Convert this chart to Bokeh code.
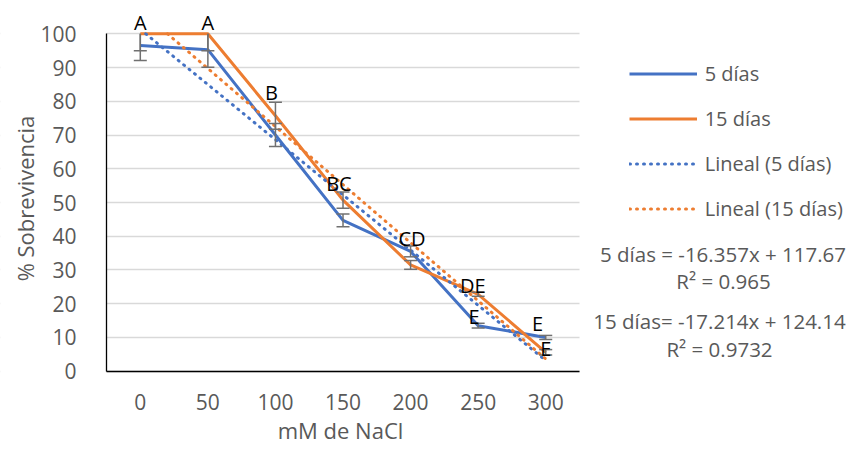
import math
import numpy as np
from bokeh.plotting import figure
from bokeh.models import (Range1d, FixedTicker, Legend, LegendItem, Label,
                          LabelSet, ColumnDataSource, BoxAnnotation)
from bokeh.core.properties import value
from bokeh.embed import file_html
from bokeh.resources import INLINE

# ---- data ----
nacl = [0, 50, 100, 150, 200, 250, 300]
dias5 = [96.5, 95.3, 70.0, 44.7, 35.5, 13.5, 10.0]
dias15 = [100.0, 100.0, 75.7, 50.7, 31.5, 22.8, 5.6]
err5 = [4.4, 5.2, 3.4, 1.9, 1.6, 0.7, 0.6]
err15 = [5.0, 5.0, 4.0, 2.4, 1.3, 0.6, 0.8]
slope5, intercept5 = -16.357, 117.67
slope15, intercept15 = -17.214, 124.14
letters = ["A", "A", "B", "BC", "CD", "DE", "E", "E", "E"]
letter_x = [0, 50, 97, 147, 201, 246, 247, 294, 300]
letter_y = [103.3, 103.3, 82.7, 55.5, 39.2, 25.4, 16.2, 14.2, 6.7]
eq_texts = ["5 días = -16.357x + 117.67", "R² = 0.965",
            "15 días= -17.214x + 124.14", "R² = 0.9732"]
y_ticks = list(range(0, 101, 10))
y_min, y_max = 0, 100
x_lo, x_hi = -25, 325          # category area of the x axis
series_names = ["5 días", "15 días", "Lineal (5 días)", "Lineal (15 días)"]
x_title = "mM de NaCl"
y_title = "% Sobrevivencia"

BLUE = "#4472C4"
ORANGE = "#ED7D31"
GREY_TXT = "#595959"
ERR = "#707070"
FONT = "Open Sans"

# ---- canvas layout (pixels) ----
W, H = 847, 446
PX_X0 = 139.8            # canvas x of value 0
PX_PER_X = 473 / 350
PY_Y0 = 370.7            # canvas y of value 0
PX_PER_Y = 337.4 / 100

xr = Range1d(-PX_X0 / PX_PER_X, (W - PX_X0) / PX_PER_X)
yr = Range1d((PY_Y0 - H) / PX_PER_Y, PY_Y0 / PX_PER_Y)

p = figure(width=W, height=H, output_backend="svg", toolbar_location=None,
           x_range=xr, y_range=yr, min_border=0)
p.outline_line_color = None

p.xaxis.ticker = FixedTicker(ticks=nacl)
p.yaxis.ticker = FixedTicker(ticks=y_ticks)
p.xaxis.fixed_location = y_min
p.yaxis.fixed_location = x_lo
p.xaxis.bounds = (x_lo, x_hi)
p.yaxis.bounds = (y_min, y_max)
for ax in (p.xaxis[0], p.yaxis[0]):
    ax.major_tick_line_color = None
    ax.minor_tick_line_color = None
    ax.axis_line_color = "black"
    ax.axis_line_width = 1.3
    ax.major_label_text_font = FONT
    ax.major_label_text_font_size = "21px"
    ax.major_label_text_color = GREY_TXT
p.xaxis.major_label_standoff = 17
p.yaxis.major_label_standoff = 24

p.xgrid.grid_line_color = None
p.ygrid.grid_line_color = "#D9D9D9"
p.ygrid.grid_line_width = 1.3
# keep horizontal grid lines inside the category area
for side in (dict(right=x_lo), dict(left=x_hi)):
    p.add_layout(BoxAnnotation(fill_color="white", fill_alpha=1, line_alpha=0,
                               level="underlay", **side))

x_arr = np.array(nacl, dtype=float)
r5 = p.line(nacl, dias5, line_color=BLUE, line_width=3)
r15 = p.line(nacl, dias15, line_color=ORANGE, line_width=3)

# linear trend lines (Excel uses category index 1..n), cut at the axis maximum
step = nacl[1] - nacl[0]
def trend(m, b):
    i0, i1 = 1.0, float(len(nacl))
    if m * i0 + b > y_max:
        i0 = (y_max - b) / m
    idx = np.array([i0, i1])
    return (idx - 1) * step + nacl[0], m * idx + b

tx5, ty5 = trend(slope5, intercept5)
tx15, ty15 = trend(slope15, intercept15)
t5 = p.line(tx5, ty5, line_color=BLUE, line_width=3, line_dash="1 6", line_cap="round")
t15 = p.line(tx15, ty15, line_color=ORANGE, line_width=3, line_dash="1 6",
             line_cap="round")

# error bars, cut at the axis maximum
for vals, errs in ((dias5, err5), (dias15, err15)):
    v = np.array(vals); e = np.array(errs)
    up = np.minimum(v + e, y_max)
    lo = v - e
    p.segment(x0=x_arr, y0=lo, x1=x_arr, y1=up, line_color=ERR, line_width=1.5)
    p.scatter(x_arr, lo, marker="dash", size=13, line_color=ERR, line_width=1.5)
    keep = (v + e) <= y_max
    p.scatter(x_arr[keep], up[keep], marker="dash", size=13, line_color=ERR,
              line_width=1.5)

lsrc = ColumnDataSource(dict(x=letter_x, y=letter_y, t=letters))
p.add_layout(LabelSet(x="x", y="y", text="t", source=lsrc, text_align="center",
                      text_baseline="middle", text_font=value(FONT),
                      text_font_size=value("20px"), text_color="black"))

# axis titles
p.add_layout(Label(x=24.5, y=H - 198, x_units="screen", y_units="screen",
                   text=y_title, angle=math.pi / 2, text_align="center",
                   text_baseline="middle", text_font=FONT, text_font_size="22px",
                   text_color=GREY_TXT))
p.add_layout(Label(x=340, y=H - 429, x_units="screen", y_units="screen",
                   text=x_title, text_align="center", text_baseline="middle",
                   text_font=FONT, text_font_size="22px", text_color=GREY_TXT))

# legend
legend = Legend(items=[LegendItem(label=n, renderers=[r])
                       for n, r in zip(series_names, [r5, r15, t5, t15])],
                location=(628.7, H - 230.8), glyph_width=68, glyph_height=45,
                label_height=45, spacing=0, padding=0, margin=0, label_standoff=8,
                border_line_color=None, background_fill_alpha=0,
                label_text_font=FONT, label_text_font_size="20px",
                label_text_color=GREY_TXT)
p.add_layout(legend, "center")

# regression equations
eq_pos = [(722.5, 253.3), (723, 280), (719, 320), (719, 348.3)]
for txt, (ex, ey) in zip(eq_texts, eq_pos):
    p.add_layout(Label(x=ex, y=H - ey, x_units="screen", y_units="screen", text=txt,
                       text_align="center", text_baseline="middle", text_font=FONT,
                       text_font_size="20.5px", text_color=GREY_TXT))

open("out.html", "w").write(file_html(p, INLINE))
